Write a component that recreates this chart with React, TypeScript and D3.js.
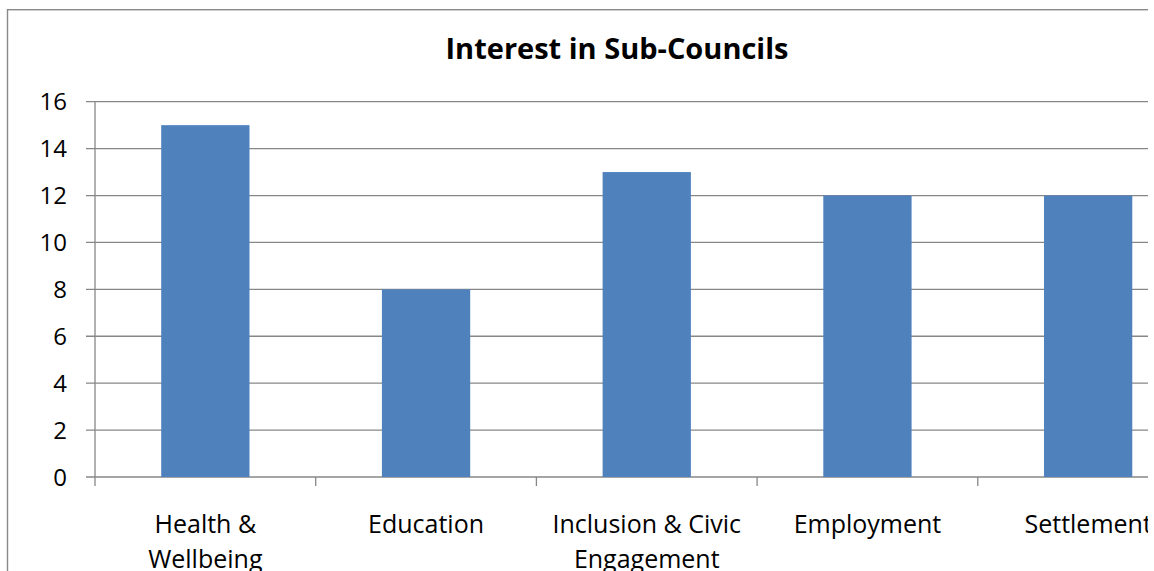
import React from "react";
import * as d3 from "d3";

const categories = ["Health & Wellbeing", "Education", "Inclusion & Civic Engagement", "Employment", "Settlement"];
const categoryLines = [["Health &", "Wellbeing"], ["Education"], ["Inclusion & Civic", "Engagement"], ["Employment"], ["Settlement"]];
const values = [15, 8, 13, 12, 12];
const yTicks = [0, 2, 4, 6, 8, 10, 12, 14, 16];
const title = "Interest in Sub-Councils";

const W = 1154;
const H = 571;
const plotLeft = 95;
const plotRight = 95 + 5 * 220.7;
const plotTop = 101.7;
const plotBottom = 477;
const clipRight = 1148;
const font = "'Open Sans', Lato, sans-serif";
const gridColor = "#878787";

export default function App() {
  const x = d3.scaleBand<string>().domain(categories).range([plotLeft, plotRight]).paddingInner(0.6).paddingOuter(0.3);
  const y = d3.scaleLinear().domain([0, 16]).range([plotBottom, plotTop]);
  const step = x.step();
  const boundaries = d3.range(categories.length + 1).map((i) => plotLeft + i * step);

  return (
    <svg width={W} height={H} style={{ position: "absolute", left: 0, top: 0, background: "#fff" }}>
      <defs>
        <clipPath id="clipR">
          <rect x={0} y={0} width={clipRight} height={H} />
        </clipPath>
      </defs>
      <g clipPath="url(#clipR)">
        <rect x={7.5} y={9.7} width={W + 20} height={H + 20} fill="none" stroke="#898989" strokeWidth={1.4} />
        <text x={617} y={59} textAnchor="middle" fontFamily={font} fontWeight="bold" fontSize={29} fill="#000">
          {title}
        </text>
        {yTicks.map((t) => (
          <g key={t}>
            <line x1={86} x2={plotRight} y1={y(t)} y2={y(t)} stroke={gridColor} strokeWidth={1.3} />
            <text x={67} y={y(t)} dy="0.36em" textAnchor="end" fontFamily={font} fontSize={24} fill="#000">
              {t}
            </text>
          </g>
        ))}
        <line x1={plotLeft} x2={plotLeft} y1={plotTop} y2={plotBottom + 9} stroke={gridColor} strokeWidth={1.3} />
        {boundaries.slice(1).map((b, i) => (
          <line key={i} x1={b} x2={b} y1={plotBottom} y2={plotBottom + 9} stroke={gridColor} strokeWidth={1.3} />
        ))}
        {categories.map((c, i) => (
          <rect key={c} x={x(c)} y={y(values[i])} width={x.bandwidth()} height={y(0) - y(values[i])} fill="#4F81BD" />
        ))}
        {categories.map((c, i) => (
          <text key={c} textAnchor="middle" fontFamily={font} fontSize={25} fill="#000">
            {categoryLines[i].map((line, j) => (
              <tspan key={j} x={(x(c) as number) + x.bandwidth() / 2} y={532.7 + j * 35}>
                {line}
              </tspan>
            ))}
          </text>
        ))}
      </g>
    </svg>
  );
}
